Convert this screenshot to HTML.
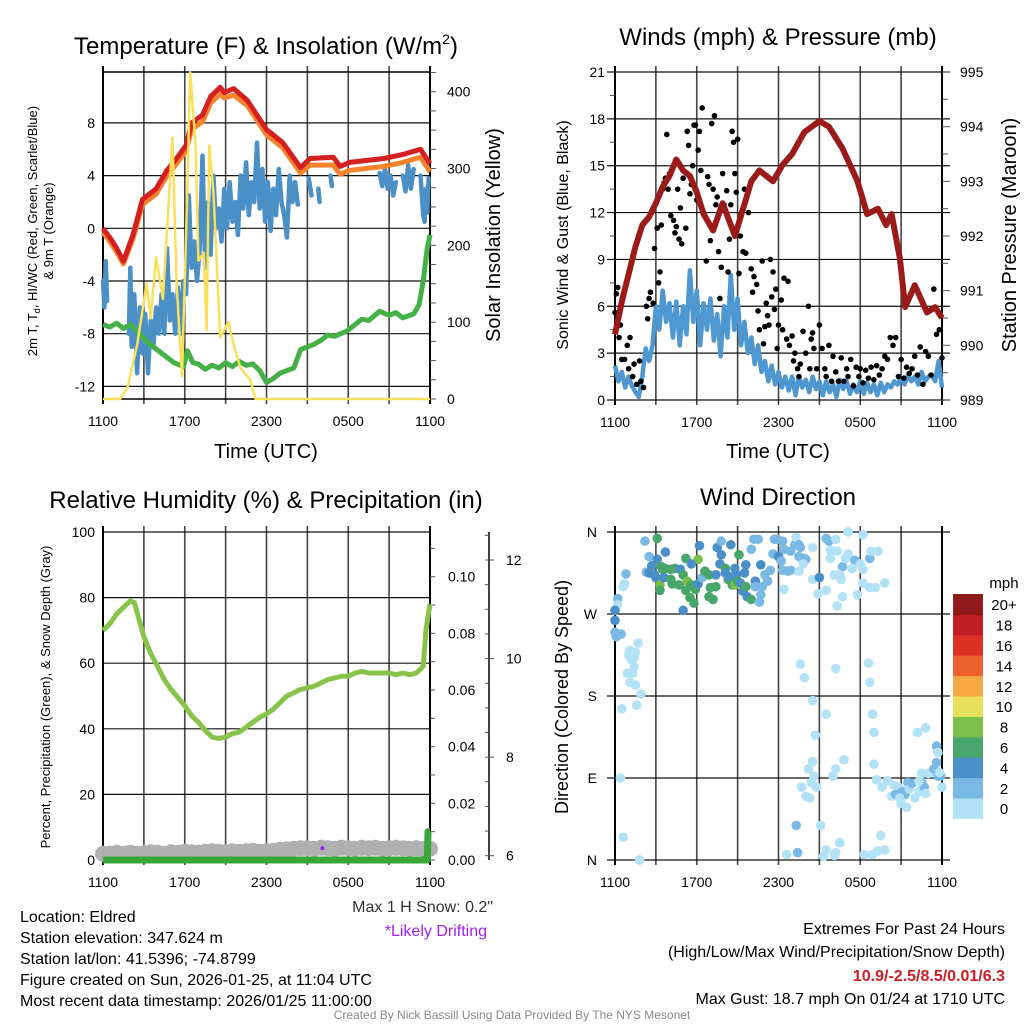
<!DOCTYPE html>
<html><head><meta charset="utf-8"><style>
html,body{margin:0;padding:0;background:#fff}
svg{display:block;font-family:"Liberation Sans",sans-serif}
</style></head><body>
<svg id="fig" width="1024" height="1024" viewBox="0 0 1024 1024" xmlns="http://www.w3.org/2000/svg">
<rect width="1024" height="1024" fill="#fff"/>
<g id="layer"></g>
<g font-family="Liberation Sans, sans-serif" fill="#000">
<text x="266" y="54" font-size="24" text-anchor="middle">Temperature (F) &amp; Insolation (W/m<tspan font-size="14" dy="-10">2</tspan><tspan dy="10">)</tspan></text>
<text x="778" y="45" font-size="24" text-anchor="middle">Winds (mph) &amp; Pressure (mb)</text>
<text x="266" y="508" font-size="24" text-anchor="middle">Relative Humidity (%) &amp; Precipitation (in)</text>
<text x="778" y="505" font-size="24" text-anchor="middle">Wind Direction</text>
<text x="266" y="458" font-size="20" text-anchor="middle">Time (UTC)</text>
<text x="778" y="458" font-size="20" text-anchor="middle">Time (UTC)</text>
<text font-size="13" text-anchor="middle" transform="translate(37,231) rotate(-90)">2m T, T<tspan font-size="9" dy="3">d</tspan><tspan dy="-3">, HI/WC (Red, Green, Scarlet/Blue)</tspan></text>
<text font-size="13" text-anchor="middle" transform="translate(53,231) rotate(-90)">&amp; 9m T (Orange)</text>
<text font-size="20" text-anchor="middle" transform="translate(500,235) rotate(-90)">Solar Insolation (Yellow)</text>
<text font-size="16" text-anchor="middle" transform="translate(568,235) rotate(-90)">Sonic Wind &amp; Gust (Blue, Black)</text>
<text font-size="20" text-anchor="middle" transform="translate(1016,235) rotate(-90)">Station Pressure (Maroon)</text>
<text font-size="13" text-anchor="middle" transform="translate(50,697) rotate(-90)">Percent, Precipitation (Green), &amp; Snow Depth (Gray)</text>
<text font-size="18" text-anchor="middle" transform="translate(568,697) rotate(-90)">Direction (Colored By Speed)</text>
</g>
<g font-size="16" fill="#000" font-family="Liberation Sans, sans-serif">
<text x="493" y="912" text-anchor="end" fill="#333">Max 1 H Snow: 0.2"</text>
<text x="487" y="936" text-anchor="end" fill="#a020f0">*Likely Drifting</text>
<text x="20" y="922">Location: Eldred</text>
<text x="20" y="943">Station elevation: 347.624 m</text>
<text x="20" y="964">Station lat/lon: 41.5396; -74.8799</text>
<text x="20" y="985">Figure created on Sun, 2026-01-25, at 11:04 UTC</text>
<text x="20" y="1006">Most recent data timestamp: 2026/01/25 11:00:00</text>
<text x="1005" y="934" text-anchor="end">Extremes For Past 24 Hours</text>
<text x="1005" y="957" text-anchor="end">(High/Low/Max Wind/Precipitation/Snow Depth)</text>
<text x="1005" y="981" text-anchor="end" fill="#cc1f25" font-weight="bold">10.9/-2.5/8.5/0.01/6.3</text>
<text x="1005" y="1004" text-anchor="end">Max Gust: 18.7 mph On 01/24 at 1710 UTC</text>
<text x="512" y="1019" text-anchor="middle" font-size="12" fill="#888">Created By Nick Bassill Using Data Provided By The NYS Mesonet</text>
</g>
</svg>
<script>
// ---------- data ----------
const timeTickLabels = ["1100","1700","2300","0500","1100"];
const tempTickLabels = ["-12","-8","-4","0","4","8"];
const insolTickLabels = ["0","100","200","300","400"];
const windTickLabels = ["0","3","6","9","12","15","18","21"];
const pressTickLabels = ["989","990","991","992","993","994","995"];
const rhTickLabels = ["0","20","40","60","80","100"];
const precipTickLabels = ["0.00","0.02","0.04","0.06","0.08","0.10"];
const snowTickLabels = ["6","8","10","12"];
const dirTickLabels = ["N","E","S","W","N"];
const speedBins = ["0","2","4","6","8","10","12","14","16","18","20+"];

const redHours = [0,0.5,1,1.5,2.2,2.9,3.4,3.9,4.7,5.4,6.1,6.5,7.3,7.9,8.6,8.9,9.6,10.6,12,13.2,14.5,15.2,16.9,17.4,18.1,20.6,22,23.3,24];
const redTemp = [0,-0.7,-1.5,-2.5,-0.5,2.2,2.6,3,4.4,5.3,6.3,8,8.6,10,10.7,10.3,10.6,9.7,7.5,6.5,4.6,5.3,5.4,4.7,5,5.3,5.6,6,4.9];
const orangeTemp = [-0.3,-1,-1.8,-2.7,-0.8,1.8,2.2,2.6,4,4.9,5.9,7.5,8.1,9.5,10.2,9.9,10.1,9.3,7.1,6.1,4.2,4.8,4.8,4.1,4.4,4.7,5,5.4,4.3];
const blueHours = [0,0.1,0.2,0.3,null,1.9,2,2.1,2.3,2.5,2.7,2.9,3.1,3.3,3.5,3.7,3.9,4.1,4.3,4.5,4.7,4.9,5.1,5.3,5.5,5.7,5.9,6.1,6.3,6.5,6.7,6.9,7.1,7.3,7.5,7.7,7.9,8.1,8.3,8.5,8.7,8.9,9.1,9.3,9.5,9.7,9.9,10.1,10.3,10.5,10.7,10.9,11.1,11.3,11.5,11.7,11.9,12.1,12.3,12.5,12.7,12.9,13.1,13.3,13.5,13.7,13.9,14.1,14.3,null,15.1,15.3,null,15.8,15.9,null,16.7,16.8,null,20.3,20.5,20.7,20.9,21.1,21.3,21.5,null,22,22.2,22.4,22.6,22.8,null,23.3,23.5,23.6,23.7,23.8,23.9];
const blueTemp = [-4,-6,-2.5,-5.5,null,-8,-3,-9,-5,-11,-6,-9.5,-6.5,-11,-7,-9,-6,-8,-5,-8,-1.5,-7,-5,-8,-4.5,-8,-4,-5,2.5,-3,-1,-4,-1.5,5.5,-3,2,-2,4,0,1.5,-1,3,0,3.5,0.5,2,-0.5,4,1.5,5,1,3.5,2,6.5,1.5,4.5,0.5,3.5,-0.2,3,1,4.5,2,1,-0.7,4,2,3.5,1.8,null,3.8,2.5,null,3,2,null,4,3.2,null,4.2,3.2,4.5,3,4,2.5,3.5,null,4,2.8,4.8,3,4.5,null,4,1,0.5,3,1.2,3.8];
const greenHours = [0,0.5,1,1.5,2,2.7,3.2,3.7,4.2,4.7,5.2,5.9,6.2,6.6,7,7.5,8,8.5,9,9.5,10,10.5,11,11.5,12,12.5,13,13.5,14,14.5,15,15.5,16,16.5,17,17.9,18.5,19,19.5,20.3,21,21.5,22,22.8,23.2,23.5,23.8,24];
const greenTemp = [-7.3,-7.5,-7.2,-7.6,-7.3,-8,-8.6,-9,-9.4,-9.8,-10.2,-10.5,-9.3,-10.2,-10.3,-10.7,-10.4,-10.6,-10.2,-10.5,-10.1,-10.4,-10.3,-10.8,-11.7,-11.4,-11,-10.8,-10.6,-9.2,-9,-8.8,-8.5,-8.1,-8.2,-7.8,-7.3,-6.9,-7,-6.3,-6.6,-6.4,-6.8,-6.5,-5.8,-4,-1.5,-0.5];
const insolHours = [0,1.25,1.8,2.5,3.2,3.5,3.9,4.4,5.1,5.4,5.8,6.2,6.4,6.8,7.0,7.4,7.6,7.8,8.1,8.6,9.2,9.6,10.1,10.8,11.2,24];
const insolation = [0,0,15,70,150,105,185,130,340,150,30,280,425,330,180,190,90,330,270,80,100,70,40,25,0,0];

const pressHours = [0,0.5,1,1.5,2,2.5,3,3.5,4,4.5,5,5.5,6,6.5,7.2,7.9,8.8,10,10.6,11.6,12.3,13,13.9,15,15.7,16.7,17.8,18.5,19.3,19.9,20.3,20.9,21.3,22,22.9,23.5,24];
const pressure = [990.2,990.8,991.3,991.8,992.2,992.35,992.6,992.9,993.1,993.4,993.2,993.1,992.8,992.4,992.1,992.6,992,993,993.2,993,993.3,993.5,993.9,994.1,994,993.6,993,992.4,992.5,992.2,992.4,991.6,990.7,991.1,990.6,990.7,990.5];
const windHours = Array.from({length:97},(_,i)=>i*0.25);
const windSpeed = [2.2,1.2,1.8,0.8,1.5,0.9,0.5,0.2,1.5,3.3,2.5,3.5,6,4.5,7,5,6.2,4,6.3,3.5,6,4.2,8.3,5,7,3.5,6.2,4.5,6.5,3.8,5.5,2.8,6,4,8,4.5,6.5,3.5,5,3,4,2.3,3.5,1.8,2.5,1.2,2.2,1,1.8,0.8,1.5,0.6,1.5,0.3,1.5,0.8,1.3,0.5,1.5,0.7,1.2,0.3,1.2,0.5,1,0.2,1.3,0.7,1.2,0.4,1,0.5,1.2,0.4,1.1,0.5,1,0.3,1.1,0.5,1,0.8,1.2,1,1.4,1,1.6,1.2,1.5,1,1.8,1.2,1.5,1.6,1.2,2.5,0.8];
const gustHours = [0,0.1,0.2,0.3,0.4,0.5,0.7,0.9,1,1.1,1.3,1.4,1.6,1.8,1.9,2.1,2.3,2.4,2.5,2.6,2.8,2.9,3.1,3.2,3.3,3.4,3.5,3.6,3.7,3.8,3.9,4,4.1,4.3,4.4,4.5,4.6,4.7,4.8,4.9,5,5.2,5.3,5.4,5.5,5.6,5.7,5.8,5.9,6,6.1,6.2,6.3,6.4,6.6,6.7,6.8,6.9,7,7.1,7.2,7.3,7.4,7.5,7.6,7.7,7.8,7.9,8,8.2,8.3,8.4,8.5,8.6,8.7,8.8,8.9,9,9.1,9.2,9.3,9.4,9.5,9.6,9.8,10,10.1,10.2,10.4,10.5,10.6,10.8,10.9,11,11.1,11.2,11.3,11.4,11.5,11.6,11.7,11.8,11.9,12,12.2,12.3,12.4,12.6,12.7,12.8,13,13.1,13.2,13.4,13.5,13.6,13.8,14,14.2,14.3,14.4,14.5,14.6,14.8,15,15.2,15.4,15.5,15.7,15.9,16,16.2,16.4,16.6,16.8,17,17.1,17.3,17.5,17.7,17.9,18,18.2,18.4,18.6,18.8,19,19.2,19.4,19.6,19.8,20,20.2,20.4,20.6,20.8,21,21.2,21.4,21.6,21.8,22,22.2,22.4,22.6,22.8,23,23.2,23.4,23.6,23.8,24];
const gustSpeed = [5.6,6.8,7.2,4,4.8,2.6,2.6,3.5,2,4,1.5,2.3,1,2.5,1.2,0.8,6,5.2,6.5,6.9,6.2,9.7,11,7.5,8.2,11.2,13.5,13.9,14.2,17,13.5,14.5,11.8,11.5,10.7,11.1,13.5,10.3,12.3,10,14.2,11,17.2,16.3,13.2,13.8,15,17.6,17.6,12.8,16,17.2,14.7,18.7,11.8,8.9,14.3,13.8,10.2,17.7,13.5,18.2,12.5,13,9.5,6.5,8.5,14.5,12.5,13.4,8.2,10.3,12.5,17.2,16.5,14.5,13.3,16.7,8.1,10.5,12,9.5,13.5,9.4,12,8.4,6.9,7.9,7.4,5.7,4.5,8.9,3.6,4.7,6.2,5.4,4.8,9,6.6,8.2,5.8,7.1,3.3,4.8,6.4,4.5,7.8,3.9,7.6,3.5,4.1,2.5,3,2,1.5,2.3,4.4,3,6,2,3.9,4.3,3.3,2,4.8,3.3,2,1.5,3.5,1.2,2.8,1.8,1.2,2.7,1.2,2,1.5,2.6,0.9,2.1,1.5,2,1.1,1.9,1.4,2.1,1.3,2.2,1.6,2,2.8,2.6,4,3.5,4,1.5,2.6,1.4,2.1,1.7,2,2.8,1.6,3.4,1,3.1,2.8,1.6,7.1,4.2,4.5,2.7];

const rhHours = [0,0.5,1,1.5,2,2.3,2.6,3,3.5,4,4.5,5,5.5,6,6.5,7,7.5,8,8.5,9,9.5,10,10.5,11,11.5,12,12.5,13,13.5,14,14.5,15,15.5,16,16.5,17,17.5,18,18.5,19,19.5,20,20.5,21,21.5,22,22.5,23,23.5,23.7,24];
const relHumidity = [70,72,75,77,79,78.5,74,68,63,59,55,52,49.5,47,44,42,39.5,37.5,37,37.5,38.5,39,40.5,42,43.5,44.5,46,48,50,51,52,52.5,53,54,55,55.5,56,56,57,57.5,57,57,57,57,56.5,57,56.5,57,59,70,78];
const snowHours = Array.from({length:49},(_,i)=>i*0.5);
const snowDepth = [6,6,6.02,6,6.02,6,6.01,6.03,6.02,6,6.03,6.02,6.04,6.03,6.02,6.04,6.05,6.04,6.03,6.05,6.04,6.05,6.06,6.04,6.05,6.06,6.08,6.09,6.1,6.11,6.11,6.1,6.12,6.11,6.1,6.12,6.11,6.1,6.12,6.11,6.12,6.1,6.11,6.12,6.11,6.1,6.11,6.1,6.1];
const precipHours = [0,23.8,23.85,24];
const precip = [0,0,0.01,0.01];
const driftHours = [16.1];
const driftDepth = [6.15];

const dirPts = [[2.2,350,3],[3.1,353,7],[2.5,333,3],[0.8,314,3],[0.7,303,1],[0.6,300,1],[0.2,287,3],[0.2,280,1],[0,274,5],[0,263,5],
[2.3,316,3],[2.5,315,5],[2.7,323,5],[3.1,330,5],[2.9,313,5],[3.0,310,5],[3.4,322,7],[3.5,319,7],[3.7,320,7],[4.1,319,7],[4.4,320,7],[4.8,319,5],[5.2,331,7],[6.1,330,9],[5.6,325,5],[6.2,345,5],[3.7,338,5],[3.3,302,9],[3.3,296,7],[3.6,310,5],[4.1,308,7],[4.2,303,7],[4.7,302,7],[5.0,313,7],[5.3,306,9],[5.2,296,7],[5.6,302,7],[5.9,297,7],[5.5,288,7],[5.8,282,7],[5.0,274,5],[6.1,303,5],[6.4,310,3],[6.6,317,7],[6.9,313,7],[7.0,299,7],[6.9,289,7],[7.2,286,7],[7.4,300,7],[7.4,313,5],[7.7,325,5],[7.5,343,5],[7.8,350,3],[7.8,335,5],[8.1,320,7],[8.1,315,5],[8.3,308,7],[8.4,311,5],[8.5,346,5],[8.8,320,5],[8.9,313,5],[8.6,302,7],[8.8,302,9],[9.0,306,7],[9.1,335,7],[9.2,304,5],[9.4,295,5],[9.5,315,5],[9.6,324,5],[9.6,300,7],[9.7,289,5],[10.0,286,7],[10.3,306,5],[10.3,300,3],[10.7,324,5],[10.8,300,3],[11.0,313,3],[11.2,306,3],[11.4,318,3],[10.7,291,3],[10.6,283,3],[10.2,352,3],[10.5,352,3],[10.0,341,3],[11.6,336,3],[11.7,352,3],[11.9,352,3],[12.3,350,3],[12.0,333,5],[12.2,328,3],[12.3,318,3],[12.7,317,3],[12.9,318,3],[12.4,341,3],[12.9,339,3],[13.2,346,3],[13.3,354,1],[13.5,346,3],[13.6,343,3],[13.5,333,3],[13.9,331,3],[14.0,330,3],[13.8,325,1],[13.5,317,1],[12.4,297,1],[14.5,308,1],[15.0,310,5],[14.5,343,1],[15.5,353,3],[15.7,350,3],[16.2,352,1],[15.8,340,1],[15.8,331,1],[16.3,339,1],[16.7,322,3],[16.5,313,1],[16.1,313,1],[16.6,308,1],[17.1,336,1],[17.1,360,1],[18.2,357,1],[17.6,329,3],[17.4,320,1],[16.9,331,1],[18.0,325,1],[18.2,319,1],[18.7,331,3],[18.8,339,1],[19.3,339,1],[18.2,304,1],[18.7,299,1],[19.1,299,1],[19.8,304,1],[17.8,291,1],[16.7,289,1],[16.3,279,1],[14.9,292,1],[15.5,296,1],
[0,250,3],[0.1,245,3],[0.45,248,3],[1.0,225,1],[1.1,230,1],[1.2,220,1],[1.4,222,1],[1.7,238,1],[1.5,228,1],[0.9,205,1],[1.3,205,1],[1.4,212,1],[1.1,195,1],[1.5,192,1],[1.6,170,1],[1.9,182,1],[0.5,166,1],[0.4,90,1],[0.6,25,1],[1.8,0,1],
[13.6,215,1],[13.9,200,1],[14.5,175,1],[14.7,137,1],[14.5,108,1],[14.2,100,1],[14.6,92,1],[14.4,85,1],[14.8,80,1],[13.7,80,1],[14.0,70,1],[14.3,68,1],[13.3,38,3],[13.4,8,3],[12.6,6,1],[15.1,38,1],[15.5,11,1],[15.3,4,1],[16.1,5,1],[16.2,8,1],[16.5,19,1],[16.0,92,1],[16.2,100,1],[16.8,110,1],[15.5,160,1],[16.2,210,1],[18.7,195,1],[18.6,216,1],[18.9,160,1],[19.0,140,1],[18.3,6,1],[18.9,6,1],[19.3,10,1],[19.8,11,1],[19.5,27,1],[19.6,80,1],[19.2,88,1],[19.0,105,1],[20.5,82,1],[20.8,80,1],[20.3,70,1],[20.0,87,1],[20.6,72,3],[21.0,62,1],[21.1,75,3],[21.3,72,3],[21.5,85,3],[21.6,78,1],[21.8,84,3],[22.0,68,1],[22.3,75,1],[22.5,86,3],[22.7,80,3],[22.8,73,1],[23.0,95,1],[23.4,100,3],[23.6,107,3],[23.7,92,3],[23.9,92,3],[24.0,80,1],[22.8,145,1],[22.2,140,1],[23.6,125,3],[23.7,118,1],[23.8,96,1],[22.3,86,1],[22.5,95,1],[21.4,58,1],[20.9,68,1]];
const dirHours = dirPts.map(p=>p[0]);
const dirDegrees = dirPts.map(p=>p[1]);
const dirSpeeds = dirPts.map(p=>p[2]);

// ---------- drawing ----------
const NS="http://www.w3.org/2000/svg";
const root=document.getElementById('layer');
function mk(tag,attrs,parent){const e=document.createElementNS(NS,tag);for(const k in attrs)e.setAttribute(k,attrs[k]);(parent||root).appendChild(e);return e;}
const speedColors=["#b3e1f6","#7ab9e4","#4a8fc7","#48a66a","#7bc04a","#e6e05a","#f5a742","#ee6230","#dc3226","#c01e23","#8f1a1a"];

function linScale(d0,d1,r0,r1){return v=>r0+(v-d0)/(d1-d0)*(r1-r0);}
function pathFrom(xs,ys,sx,sy){let d="",pen=false;for(let i=0;i<xs.length;i++){if(xs[i]===null||ys[i]===null){pen=false;continue;}d+=(pen?"L":"M")+sx(xs[i]).toFixed(1)+","+sy(ys[i]).toFixed(1);pen=true;}return d;}

function panelFrame(L,T,R,B,name){
  const g=mk('g',{});
  
  
  const sx=linScale(0,24,L,R);
  for(let h=3;h<24;h+=3){mk('line',{x1:sx(h),x2:sx(h),y1:T-6,y2:B+5,stroke:'#444','stroke-width':1.6},g);}
  mk('line',{x1:L,x2:L,y1:T-6,y2:B+5,stroke:'#000','stroke-width':2},g);
  mk('line',{x1:R,x2:R,y1:T-6,y2:B+5,stroke:'#000','stroke-width':2},g);
  const lab=mk('g',{'font-size':14,'text-anchor':'middle','font-family':'Liberation Sans, sans-serif'});
  
  
  timeTickLabels.forEach((t,i)=>{const e=mk('text',{x:sx(i*6),y:B+27},lab);e.textContent=t;});
  return sx;
}
function hgrid(L,R,ys,g,ext){ys.forEach(y=>mk('line',{x1:L-(ext||0),x2:R+(ext||0),y1:y,y2:y,stroke:'#111','stroke-width':1.2},g));}
function yLabels(x,anchor,vals,sy,name,fs){const g=mk('g',{'font-size':fs||14,'text-anchor':anchor,'font-family':'Liberation Sans, sans-serif'});vals.forEach(v=>{const e=mk('text',{x:x,y:sy(v)+5},g);e.textContent=v;});return g;}
function ticks(x,dir,vals,sy,len,g){vals.forEach(v=>mk('line',{x1:x,x2:x+dir*len,y1:sy(v),y2:sy(v),stroke:'#555','stroke-width':1},g));}

// ===== Panel 1 =====
(function(){
  const L=103,R=430,T=72,B=399;
  const sx=panelFrame(L,T,R,B,'temp');
  const sy=linScale(0,8,228.3,122.9);
  const si=linScale(0,400,399,91.7);
  const g=mk('g',{});
  hgrid(L,R,tempTickLabels.map(v=>sy(+v)),g);
  mk('line',{x1:L,x2:R,y1:T,y2:T,stroke:'#000','stroke-width':1.5},g);
  mk('line',{x1:L,x2:R,y1:B,y2:B,stroke:'#000','stroke-width':1.5},g);
  ticks(R,1,[0,25,50,75,100,125,150,175,200,225,250,275,300,325,350,375,400,425].map(String),v=>si(+v),6,g);
  const blue=mk('path',{d:pathFrom(blueHours,blueTemp,sx,sy),fill:'none',stroke:'#4a8fc6','stroke-width':4.5,'stroke-linejoin':'round','stroke-linecap':'round'});
  
  const gr=mk('path',{d:pathFrom(greenHours,greenTemp,sx,sy),fill:'none',stroke:'#45b045','stroke-width':5,'stroke-linejoin':'round'});
  
  const or=mk('path',{d:pathFrom(redHours,orangeTemp,sx,sy),fill:'none',stroke:'#f5822d','stroke-width':5,'stroke-linejoin':'round'});
  
  const rd=mk('path',{d:pathFrom(redHours,redTemp,sx,sy),fill:'none',stroke:'#d42020','stroke-width':5,'stroke-linejoin':'round'});
  
  const yl=mk('path',{d:pathFrom(insolHours,insolation,sx,si),fill:'none',stroke:'#f8e05a','stroke-width':2.5,'stroke-linejoin':'round'});
  
  yLabels(95,'end',tempTickLabels,v=>sy(+v),'temp-y-tick-labels');
  yLabels(447,'start',insolTickLabels,v=>si(+v),'insolation-y-tick-labels');
})();

// ===== Panel 2 =====
(function(){
  const L=615,R=942,T=72,B=400;
  const sx=panelFrame(L,T,R,B,'wind');
  const sy=linScale(0,21,B,T);
  const sp=linScale(989,995,B,T);
  const g=mk('g',{});
  hgrid(L,R,windTickLabels.map(v=>sy(+v)),g,8);
  ticks(L,-1,[1.5,4.5,7.5,10.5,13.5,16.5,19.5].map(String),v=>sy(+v),5,g);
  ticks(R,1,[989.5,990.5,991.5,992.5,993.5,994.5].map(String),v=>sp(+v),6,g);
  ticks(R,1,pressTickLabels,v=>sp(+v),8,g);
  const wl=mk('path',{d:pathFrom(windHours,windSpeed,sx,sy),fill:'none',stroke:'#4f97d0','stroke-width':4.5,'stroke-linejoin':'round'});
  
  const dg=mk('g',{fill:'#000'});
  gustHours.forEach((h,i)=>{mk('circle',{cx:sx(h),cy:sy(gustSpeed[i]),r:2.8},dg);});
  const pl=mk('path',{d:pathFrom(pressHours,pressure,sx,sp),fill:'none',stroke:'#9b1b1b','stroke-width':6,'stroke-linejoin':'round'});
  
  yLabels(605,'end',windTickLabels,v=>sy(+v),'wind-y-tick-labels');
  yLabels(960,'start',pressTickLabels,v=>sp(+v),'pressure-y-tick-labels');
})();

// ===== Panel 3 =====
(function(){
  const L=103,R=430,T=532,B=860;
  const sx=panelFrame(L,T,R,B,'rh');
  const sy=linScale(0,100,B,T);
  const spr=linScale(0,0.1,860,576.7);
  const ss=linScale(6,12,855.7,560);
  const g=mk('g',{});
  hgrid(L,R,rhTickLabels.map(v=>sy(+v)),g);
  ticks(R,1,[0,0.01,0.02,0.03,0.04,0.05,0.06,0.07,0.08,0.09,0.1,0.11].map(String),v=>spr(+v),5,g);
  mk('line',{x1:489,x2:489,y1:532,y2:860,stroke:'#000','stroke-width':1.5},g);
  ticks(489,-1,[6,6.5,7,7.5,8,8.5,9,9.5,10,10.5,11,11.5,12,12.5].map(String),v=>ss(+v),4,g);
  ticks(489,1,snowTickLabels,v=>ss(+v),5,g);
  const sg=mk('g',{fill:'#b0b0b0'});
  snowHours.forEach((h,i)=>{mk('circle',{cx:sx(h),cy:ss(snowDepth[i])-2,r:8},sg);});
  const dr=mk('circle',{cx:sx(driftHours[0]),cy:ss(driftDepth[0]),r:2,fill:'#a020f0'});
  
  const rl=mk('path',{d:pathFrom(rhHours,relHumidity,sx,sy),fill:'none',stroke:'#88c34a','stroke-width':5,'stroke-linejoin':'round'});
  
  const pr=mk('path',{d:pathFrom(precipHours,precip,sx,spr),fill:'none',stroke:'#3aa63a','stroke-width':7,'stroke-linejoin':'round'});
  
  yLabels(95,'end',rhTickLabels,v=>sy(+v),'rh-y-tick-labels');
  yLabels(448,'start',precipTickLabels,v=>spr(+v),'precip-y-tick-labels');
  yLabels(506,'start',snowTickLabels,v=>ss(+v),'snow-y-tick-labels');
})();

// ===== Panel 4 =====
(function(){
  const L=615,R=942,T=532,B=860;
  const sx=panelFrame(L,T,R,B,'direction');
  const sy=linScale(0,360,B,T);
  const g=mk('g',{});
  hgrid(L,R,[0,90,180,270,360].map(sy),g,8);
  const dg=mk('g',{});
  dirHours.forEach((h,i)=>{const ci=Math.min(10,Math.floor(dirSpeeds[i]/2));mk('circle',{cx:sx(h),cy:sy(dirDegrees[i]),r:4.8,fill:speedColors[ci]},dg);});
  const lg=mk('g',{'font-size':14,'text-anchor':'end','font-family':'Liberation Sans, sans-serif'});
  
  dirTickLabels.forEach((t,i)=>{const e=mk('text',{x:597,y:sy(i*90)+5},lg);e.textContent=t;});
  const cb=mk('g',{});
  const cbT=594,cbH=20.4;
  speedBins.forEach((lab,i)=>{
    const y=cbT+(10-i)*cbH;
    mk('rect',{x:953,y:y,width:30,height:cbH+0.5,fill:speedColors[i]},cb);
    const t=mk('text',{x:1004,y:y+cbH/2+6,'font-size':15,'text-anchor':'middle','font-family':'Liberation Sans, sans-serif'},cb);t.textContent=lab;
  });
  const mt=mk('text',{x:1004,y:588,'font-size':15,'text-anchor':'middle','font-family':'Liberation Sans, sans-serif'},cb);mt.textContent='mph';
})();
</script>
</body></html>
